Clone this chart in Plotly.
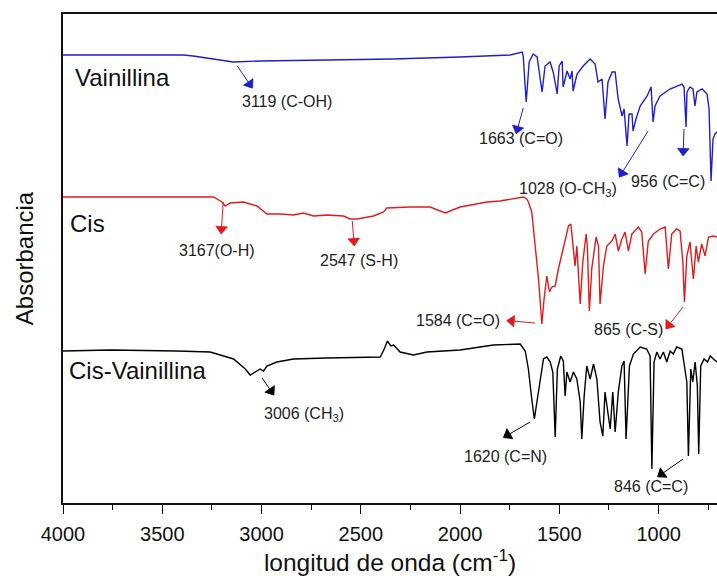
import plotly.graph_objects as go

# FTIR spectra (wavenumber in cm^-1, stacked absorbance in arbitrary units)
vain_wn = [4000, 3700, 3394, 3344, 3243, 3143, 3007, 2669, 2337, 2000, 1748, 1687, 1682,
           1667, 1652, 1632, 1612, 1587, 1572, 1547, 1531, 1511, 1501, 1486, 1481, 1461,
           1446, 1436, 1431, 1411, 1380, 1345, 1320, 1305, 1285, 1270, 1255, 1234, 1219,
           1204, 1184, 1174, 1159, 1149, 1134, 1129, 1114, 1093, 1058, 1038, 1028, 1018,
           993, 943, 882, 872, 862, 857, 842, 827, 817, 807, 781, 756, 746, 736, 726, 716, 706]
vain_ab = [448, 448, 448, 447, 444, 441, 442, 443, 444, 446, 448, 451, 447,
           401, 441, 449, 446, 411, 437, 441, 431, 409, 437, 442, 416, 432,
           424, 432, 412, 429, 437, 444, 439, 421, 424, 384, 421, 431, 431,
           404, 387, 394, 357, 389, 389, 372, 384, 397, 407, 416, 381, 397,
           407, 414, 419, 416, 376, 411, 416, 414, 397, 411, 414, 409, 394, 322, 364, 369, 371]

cis_wn = [4000, 3242, 3199, 3183, 3158, 3091, 3023, 2973, 2906, 2839, 2789, 2738, 2671,
          2587, 2553, 2520, 2436, 2386, 2369, 2251, 2151, 2075, 2000, 1865, 1798, 1748,
          1681, 1664, 1656, 1639, 1622, 1605, 1588, 1577, 1563, 1550, 1538, 1521, 1505,
          1479, 1454, 1442, 1432, 1421, 1412, 1404, 1395, 1382, 1365, 1359, 1349, 1337,
          1315, 1303, 1295, 1278, 1261, 1236, 1219, 1203, 1185, 1169, 1152, 1135, 1102,
          1085, 1068, 1052, 1026, 993, 967, 951, 934, 909, 892, 878, 870, 858, 842, 825,
          811, 800, 783, 766, 749, 724, 706]
cis_ab = [306, 306, 301, 297, 300, 301, 297, 289, 289, 288, 290, 287, 288,
          287, 284, 284, 287, 291, 295, 296, 296, 290, 296, 301, 302, 304,
          306, 304, 301, 291, 257, 224, 179, 204, 227, 211, 216, 217, 234,
          257, 277, 279, 257, 237, 257, 224, 199, 241, 269, 257, 192, 234,
          266, 257, 199, 237, 257, 262, 269, 252, 264, 271, 252, 269, 276,
          271, 229, 262, 269, 274, 276, 234, 269, 274, 272, 241, 201, 247, 261, 224,
          257, 241, 259, 247, 266, 267, 266]

cisv_wn = [4000, 3762, 3426, 3258, 3141, 3082, 3057, 3023, 3007, 2990, 2973, 2923, 2839,
           2671, 2402, 2382, 2366, 2349, 2335, 2302, 2235, 2167, 2000, 1832, 1748, 1697,
           1672, 1656, 1639, 1626, 1613, 1597, 1580, 1563, 1546, 1533, 1521, 1510, 1493,
           1480, 1471, 1462, 1446, 1429, 1412, 1395, 1387, 1375, 1362, 1345, 1328, 1311,
           1295, 1281, 1270, 1258, 1244, 1231, 1219, 1203, 1185, 1174, 1164, 1147, 1127,
           1093, 1060, 1043, 1034, 1023, 1009, 993, 976, 959, 942, 926, 909, 883, 872,
           858, 850, 838, 828, 816, 805, 798, 788, 771, 754, 740, 724, 706]
cisv_ab = [152, 153, 152, 151, 144, 134, 128, 132, 134, 132, 137, 141, 144,
           145, 146, 154, 162, 157, 158, 151, 148, 151, 153, 158, 159, 159,
           152, 134, 104, 84, 101, 124, 144, 146, 141, 131, 66, 134, 147,
           142, 107, 131, 121, 131, 124, 101, 64, 107, 137, 124, 139, 124,
           81, 67, 111, 94, 74, 111, 71, 111, 137, 142, 64, 137, 149,
           156, 154, 147, 34, 141, 151, 144, 151, 141, 152, 149, 156, 154, 141,
           121, 47, 134, 121, 141, 117, 49, 137, 144, 141, 147, 144, 141]

series_names = ["Vainillina", "Cis", "Cis-Vainillina"]
series_colors = ["#1f1fcc", "#e01b1b", "#000000"]

# Band assignments: label, text centre, arrow head and arrow tail, owning series
band_labels = ["3119 (C-OH)", "1663 (C=O)", "1028 (O-CH<sub>3</sub>)", "956 (C=C)",
               "3167(O-H)", "2547 (S-H)", "1584 (C=O)", "865 (C-S)",
               "3006 (CH<sub>3</sub>)", "1620 (C=N)", "846 (C=C)"]
band_text_x = [2871, 1692, 1456, 953, 3223, 2508, 2010, 1153, 2785, 1773, 1038]
band_text_y = [402, 365, 314, 322, 253, 243, 183, 174, 89, 47, 17]
band_tip_x = [3060, 1711, 1185, 876, 3202, 2535, 1740, 948, 2952, 1760, 985]
band_tip_y = [419, 374, 330, 352, 274, 262, 182, 178, 112, 68, 29]
band_tail_x = [3122, 1682, 1053, 872, 3193, 2543, 1622, 877, 2997, 1647, 877]
band_tail_y = [437, 395, 372, 374, 301, 282, 180, 196, 125, 81, 44]
band_series = [0, 0, 0, 0, 1, 1, 1, 1, 2, 2, 2]

# Series name labels
name_x = [3948, 3973, 3978]
name_y = [426, 280, 133]

font_family = "Arial, Liberation Sans, sans-serif"

fig = go.Figure()
for wn, ab, name, color in zip([vain_wn, cis_wn, cisv_wn], [vain_ab, cis_ab, cisv_ab],
                               series_names, series_colors):
    fig.add_trace(go.Scatter(x=wn, y=ab, mode="lines", name=name,
                             line=dict(color=color, width=1.4), showlegend=False))

# Arrows pointing at the assigned bands: a shaft with a solid triangular head
for i in range(len(band_labels)):
    color = series_colors[band_series[i]]
    fig.add_trace(go.Scatter(
        x=[band_tail_x[i], band_tip_x[i]], y=[band_tail_y[i], band_tip_y[i]],
        mode="lines+markers", line=dict(color=color, width=1),
        marker=dict(symbol=["circle", "triangle-up"], size=[0, 10], color=color,
                    opacity=1, angleref="previous", line=dict(width=0.8, color=color)),
        showlegend=False, hoverinfo="skip"))

annotations = []
for name, x, y in zip(series_names, name_x, name_y):
    annotations.append(dict(x=x, y=y, xref="x", yref="y", text=name, showarrow=False,
                            xanchor="left", yanchor="middle",
                            font=dict(family=font_family, size=24, color="#111")))

for i, label in enumerate(band_labels):
    annotations.append(dict(x=band_text_x[i], y=band_text_y[i], xref="x", yref="y",
                            text=label, showarrow=False, xanchor="center", yanchor="middle",
                            font=dict(family=font_family, size=16, color="#222")))

fig.update_layout(
    width=717, height=579,
    margin=dict(l=63, r=0, t=14, b=76),
    plot_bgcolor="white", paper_bgcolor="white",
    font=dict(family=font_family, color="#111"),
    annotations=annotations,
    xaxis=dict(
        range=[4000, 706], showgrid=False, zeroline=False,
        showline=True, linecolor="#111", linewidth=1.6, mirror=True,
        ticks="outside", ticklen=9, tickwidth=1.3, tickcolor="#111",
        tick0=1000, dtick=500, ticklabelstandoff=3,
        minor=dict(ticks="outside", ticklen=5, tickwidth=1.3, tickcolor="#111", dtick=250),
        tickfont=dict(family=font_family, size=20, color="#111"),
        title=dict(text="longitud de onda (cm<sup>-1</sup>)",
                   font=dict(family=font_family, size=24.5, color="#111"), standoff=8),
    ),
    yaxis=dict(
        range=[0, 489], showgrid=False, zeroline=False,
        showline=True, linecolor="#111", linewidth=1.6, mirror=False,
        ticks="", showticklabels=False,
        title=dict(text="Absorbancia",
                   font=dict(family=font_family, size=24, color="#111"), standoff=21),
    ),
)

fig.write_html("out.html")
